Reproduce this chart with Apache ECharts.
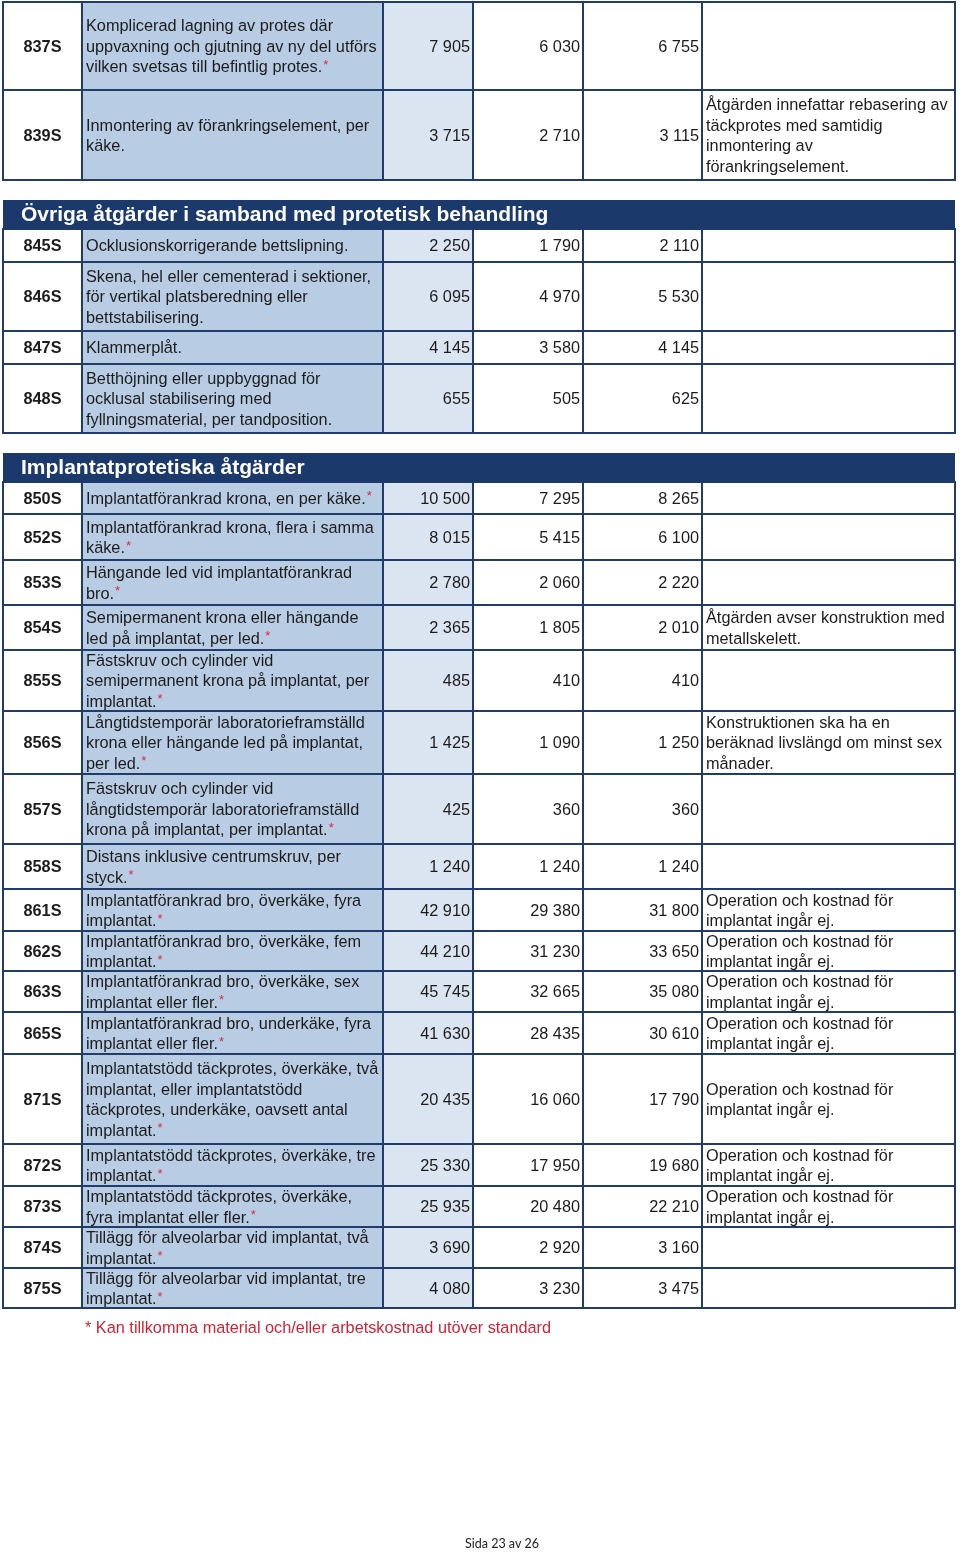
<!DOCTYPE html>
<html>
<head>
<meta charset="utf-8">
<style>
  html, body { margin: 0; padding: 0; background: #fff; }
  #chart { width: 960px; height: 1552px; }
</style>
<script src="https://cdn.jsdelivr.net/npm/echarts@6/dist/echarts.min.js"></script>
</head>
<body>
<div id="chart"></div>
<script>
// --- data ---
const codes = ['837S', '839S', '845S', '846S', '847S', '848S', '850S', '852S', '853S', '854S', '855S', '856S',
  '857S', '858S', '861S', '862S', '863S', '865S', '871S', '872S', '873S', '874S', '875S'];

const descriptions = [
  'Komplicerad lagning av protes där\nuppvaxning och gjutning av ny del utförs\nvilken svetsas till befintlig protes.*',
  'Inmontering av förankringselement, per\nkäke.',
  'Ocklusionskorrigerande bettslipning.',
  'Skena, hel eller cementerad i sektioner,\nför vertikal platsberedning eller\nbettstabilisering.',
  'Klammerplåt.',
  'Betthöjning eller uppbyggnad för\nocklusal stabilisering med\nfyllningsmaterial, per tandposition.',
  'Implantatförankrad krona, en per käke.*',
  'Implantatförankrad krona, flera i samma\nkäke.*',
  'Hängande led vid implantatförankrad\nbro.*',
  'Semipermanent krona eller hängande\nled på implantat, per led.*',
  'Fästskruv och cylinder vid\nsemipermanent krona på implantat, per\nimplantat.*',
  'Långtidstemporär laboratorieframställd\nkrona eller hängande led på implantat,\nper led.*',
  'Fästskruv och cylinder vid\nlångtidstemporär laboratorieframställd\nkrona på implantat, per implantat.*',
  'Distans inklusive centrumskruv, per\nstyck.*',
  'Implantatförankrad bro, överkäke, fyra\nimplantat.*',
  'Implantatförankrad bro, överkäke, fem\nimplantat.*',
  'Implantatförankrad bro, överkäke, sex\nimplantat eller fler.*',
  'Implantatförankrad bro, underkäke, fyra\nimplantat eller fler.*',
  'Implantatstödd täckprotes, överkäke, två\nimplantat, eller implantatstödd\ntäckprotes, underkäke, oavsett antal\nimplantat.*',
  'Implantatstödd täckprotes, överkäke, tre\nimplantat.*',
  'Implantatstödd täckprotes, överkäke,\nfyra implantat eller fler.*',
  'Tillägg för alveolarbar vid implantat, två\nimplantat.*',
  'Tillägg för alveolarbar vid implantat, tre\nimplantat.*'
];

const prisA = [7905, 3715, 2250, 6095, 4145, 655, 10500, 8015, 2780, 2365, 485, 1425,
  425, 1240, 42910, 44210, 45745, 41630, 20435, 25330, 25935, 3690, 4080];
const prisB = [6030, 2710, 1790, 4970, 3580, 505, 7295, 5415, 2060, 1805, 410, 1090,
  360, 1240, 29380, 31230, 32665, 28435, 16060, 17950, 20480, 2920, 3230];
const prisC = [6755, 3115, 2110, 5530, 4145, 625, 8265, 6100, 2220, 2010, 410, 1250,
  360, 1240, 31800, 33650, 35080, 30610, 17790, 19680, 22210, 3160, 3475];

const opKostnad = 'Operation och kostnad för\nimplantat ingår ej.';
const comments = [
  '', 'Åtgärden innefattar rebasering av\ntäckprotes med samtidig\ninmontering av\nförankringselement.',
  '', '', '', '', '', '', '',
  'Åtgärden avser konstruktion med\nmetallskelett.',
  '', 'Konstruktionen ska ha en\nberäknad livslängd om minst sex\nmånader.',
  '', '', opKostnad, opKostnad, opKostnad, opKostnad, opKostnad, opKostnad, opKostnad, '', ''
];

const sectionTitles = ['Övriga åtgärder i samband med protetisk behandling', 'Implantatprotetiska åtgärder'];
const sectionStarts = ['845S', '850S'];
const footnote = '* Kan tillkomma material och/eller arbetskostnad utöver standard';
const pageLabel = 'Sida 23 av 26';

// --- layout ---
const colEdges = [3, 82, 383, 473, 583, 702, 955];
const rowHeights = [88, 90, 33, 69, 33, 69, 32, 46, 45, 45, 61, 63, 70, 45, 42, 40, 41, 42, 90, 42, 41, 41, 40];
const tableTop = 2, sectionGap = 20, sectionHeight = 29;
const border = '#213c6b', band = '#1b3a6b', ink = '#1c1c1c';
const fontFam = '"Liberation Sans", Arial, sans-serif';
const textNudge = 1.5;

const rowTop = [], rowBottom = [], sectionTop = [];
let y = tableTop;
codes.forEach((c, i) => {
  const s = sectionStarts.indexOf(c);
  if (s >= 0) { y += sectionGap; sectionTop[s] = y; y += sectionHeight; }
  rowTop[i] = y; y += rowHeights[i]; rowBottom[i] = y;
});

const fmt = n => String(n).replace(/\B(?=(\d{3})+(?!\d))/g, ' ');

function txt(text, x, yy, align, font, fill, extra) {
  return {
    type: 'text',
    style: Object.assign({
      text, x, y: yy, font, fill,
      align, textAlign: align, verticalAlign: 'middle', textVerticalAlign: 'middle',
      lineHeight: 20.5
    }, extra || {})
  };
}

function renderRow(params, api) {
  const i = api.value(0);
  const y0 = rowTop[i], y1 = rowBottom[i];
  const P = (px, py) => api.coord([px, py]);
  const children = [];
  [[1, '#b8cce4'], [2, '#dbe5f1']].forEach(([c, color]) => {
    const a = P(colEdges[c], y0), b = P(colEdges[c + 1], y1);
    children.push({ type: 'rect', shape: { x: a[0], y: a[1], width: b[0] - a[0], height: b[1] - a[1] }, style: { fill: color } });
  });
  [y0, y1].forEach(yy => {
    const a = P(colEdges[0] - 1, yy), b = P(colEdges[6] + 1, yy);
    children.push({ type: 'line', shape: { x1: a[0], y1: a[1], x2: b[0], y2: b[1] }, style: { stroke: border, lineWidth: 2 } });
  });
  colEdges.forEach(xx => {
    const a = P(xx, y0), b = P(xx, y1);
    children.push({ type: 'line', shape: { x1: a[0], y1: a[1], x2: b[0], y2: b[1] }, style: { stroke: border, lineWidth: 2 } });
  });
  const mid = P(0, (y0 + y1) / 2 + textNudge)[1];
  const norm = '16.3px ' + fontFam;
  children.push(txt(codes[i], P((colEdges[0] + colEdges[1]) / 2, 0)[0], mid, 'center', 'bold 16.3px ' + fontFam, ink));
  const desc = descriptions[i].replace(/\*$/, '{r|*}');
  children.push(txt(desc, P(colEdges[1] + 4, 0)[0], mid, 'left', norm, ink, {
    rich: { r: { font: '13px ' + fontFam, fill: '#dc2a3e', verticalAlign: 'top', padding: [1, 0, 0, 1] } }
  }));
  [prisA, prisB, prisC].forEach((arr, k) => {
    children.push(txt(fmt(arr[i]), P(colEdges[k + 3] - 3, 0)[0], mid, 'right', norm, ink));
  });
  if (comments[i]) children.push(txt(comments[i], P(colEdges[5] + 4, 0)[0], mid, 'left', norm, ink));
  return { type: 'group', children };
}

function renderSection(params, api) {
  const s = api.value(0);
  const a = api.coord([colEdges[0], sectionTop[s]]), b = api.coord([colEdges[6], sectionTop[s] + sectionHeight]);
  return {
    type: 'group',
    children: [
      { type: 'rect', shape: { x: a[0], y: a[1], width: b[0] - a[0], height: b[1] - a[1] }, style: { fill: band } },
      txt(sectionTitles[s], a[0] + 18, (a[1] + b[1]) / 2 + 1, 'left', 'bold 21px ' + fontFam, '#fff')
    ]
  };
}

const chart = echarts.init(document.getElementById('chart'));
chart.setOption({
  animation: false,
  backgroundColor: '#fff',
  title: [
    { text: footnote, left: 85, top: 1321, padding: 0, textStyle: { color: '#cf2336', fontSize: 16.3, fontWeight: 'normal', fontFamily: fontFam } },
    { text: pageLabel, left: 465, top: 1537, padding: 0, textStyle: { color: '#222', fontSize: 12.5, fontWeight: 'normal', fontFamily: 'Lato, "Open Sans", sans-serif' } }
  ],
  grid: { left: 0, right: 0, top: 0, bottom: 0 },
  xAxis: { type: 'value', min: 0, max: 960, show: false },
  yAxis: { type: 'value', min: 0, max: 1552, inverse: true, show: false },
  series: [
    { type: 'custom', renderItem: renderRow, data: codes.map((c, i) => [i, i]), silent: true },
    { type: 'custom', renderItem: renderSection, data: sectionTitles.map((t, i) => [i, i]), silent: true }
  ]
});
</script>
</body>
</html>
